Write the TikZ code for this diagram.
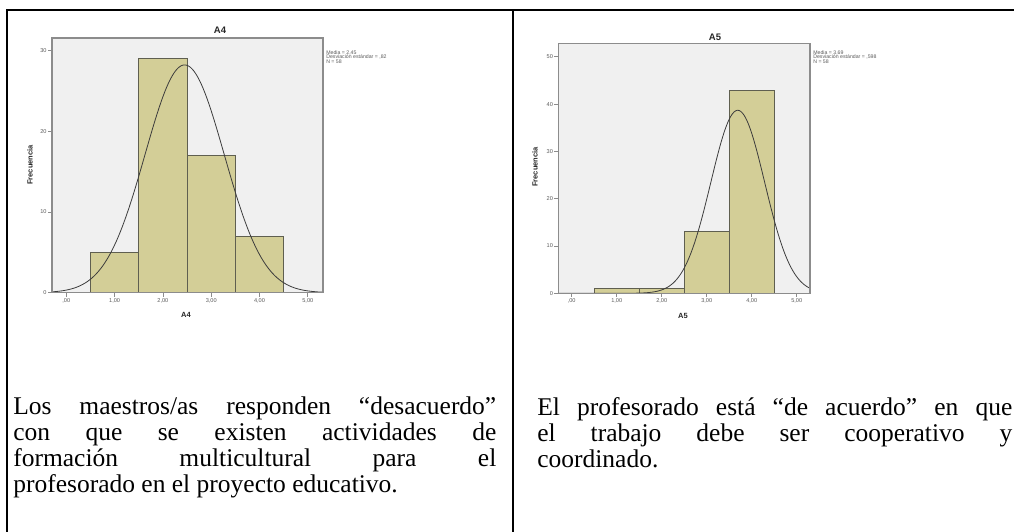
\documentclass[tikz,border=0pt]{standalone}
\usepackage{fontspec}
\setmainfont{Liberation Serif}
\newfontfamily\spssfont{Liberation Sans}
\usepackage{xcolor}
\usepackage{tikz}
\usetikzlibrary{calc}
\usetikzlibrary{positioning}

\definecolor{caqui}{RGB}{211,206,151}
\definecolor{bordebarra}{RGB}{95,95,80}
\definecolor{fondogris}{RGB}{240,240,240}
\definecolor{bordegris}{RGB}{140,140,140}
\definecolor{curvagris}{RGB}{60,60,60}
\definecolor{textogris}{RGB}{90,90,90}

\newcommand{\jline}[2]{\makebox[#1][s]{#2}}

\begin{document}
\begin{tikzpicture}[x=1pt,y=-1pt,semithick]
 \tikzstyle{marco}=[line width=2pt, line join=miter]
 \tikzstyle{fondo}=[fill=fondogris, draw=bordegris, line width=1.2pt]
 \tikzstyle{barra}=[fill=caqui, draw=bordebarra, line width=0.7pt]
 \tikzstyle{curva}=[draw=curvagris, line width=0.8pt]
 \tikzstyle{marca}=[draw=bordegris, line width=0.8pt]
 \tikzstyle{etiq}=[font=\spssfont\fontsize{5.6}{5.6}\selectfont, text=textogris, inner sep=1pt]
 \tikzstyle{leyenda}=[font=\spssfont\fontsize{5.2}{4.7}\selectfont, text=textogris, inner sep=0pt, align=left, anchor=north west]
 \tikzstyle{titulo}=[font=\spssfont\bfseries\fontsize{9.5}{9.5}\selectfont, text=black!85, inner sep=0pt]
 \tikzstyle{ejetit}=[font=\spssfont\bfseries\fontsize{7.5}{7.5}\selectfont, text=black!85, inner sep=0pt]
 \tikzstyle{parrafo}=[font=\fontsize{25.5}{26}\selectfont, inner sep=0pt, align=left, anchor=north west]
 \useasboundingbox (0,0) rectangle (1014,532);

 % table frame
 \draw[marco] (7,532) -- (7,10) -- (1014,10);
 \draw[marco] (512.5,10) -- (512.5,532);

 % histogram A4
 \node[titulo] (titA4) at (220,30) {A4};
 \node[ejetit, rotate=90] (yA4) at (30,165) {Frecuencia};
 \node[ejetit] (xA4) at (186,315) {A4};
 \node[leyenda] (legA4) at (326,50) {Media = 2,45\\Desviación estándar = ,82\\N = 58};
 \begin{scope}[shift={(66.3,292.7)}, x=48.3pt, y=8.07pt]
   \fill[fondogris] (-0.296,0) rectangle (5.315,31.56);
   \foreach \a/\h in {0.5/5,1.5/29,2.5/17,3.5/7}
     \draw[barra] (\a,0) rectangle ++(1,\h);
   \draw[curva] plot[domain=-0.296:5.315, samples=150, smooth]
     (\x, {28.22*exp(-((\x-2.45)*(\x-2.45))/(2*0.82*0.82))});
   \draw[fondo, fill=none] (-0.296,0) rectangle (5.315,31.56);
   \foreach \v in {0,10,20,30}
     \draw[marca] (-0.296,\v) -- ++(-4pt,0) node[left, etiq] {\v};
   \foreach \v/\t in {0/{,00},1/{1,00},2/{2,00},3/{3,00},4/{4,00},5/{5,00}}
     \draw[marca] (\v,0) -- ++(0,-4pt) node[below, etiq] {\t};
 \end{scope}

 % histogram A5
 \node[titulo] (titA5) at (715,37) {A5};
 \node[ejetit, rotate=90] (yA5) at (535,167) {Frecuencia};
 \node[ejetit] (xA5) at (683,316) {A5};
 \node[leyenda] (legA5) at (813,50) {Media = 3,69\\Desviación estándar = ,598\\N = 58};
 \begin{scope}[shift={(571.7,293.3)}, x=45pt, y=4.73pt]
   \fill[fondogris] (-0.298,0) rectangle (5.296,52.85);
   \foreach \a/\h in {0.5/1,1.5/1,2.5/13,3.5/43}
     \draw[barra] (\a,0) rectangle ++(1,\h);
   \draw[curva] plot[domain=-0.298:5.296, samples=150, smooth]
     (\x, {38.69*exp(-((\x-3.69)*(\x-3.69))/(2*0.598*0.598))});
   \draw[fondo, fill=none] (-0.298,0) rectangle (5.296,52.85);
   \foreach \v in {0,10,20,30,40,50}
     \draw[marca] (-0.298,\v) -- ++(-4pt,0) node[left, etiq] {\v};
   \foreach \v/\t in {0/{,00},1/{1,00},2/{2,00},3/{3,00},4/{4,00},5/{5,00}}
     \draw[marca] (\v,0) -- ++(0,-4pt) node[below, etiq] {\t};
 \end{scope}

 % texts under the charts
 \node[parrafo] (txtA4) at (13,397) {%
   \jline{483pt}{Los maestros/as responden “desacuerdo”}\\
   \jline{483pt}{con que se existen actividades de}\\
   \jline{483pt}{formación multicultural para el}\\
   profesorado en el proyecto educativo.};
 \node[parrafo] (txtA5) at (537,397) {%
   \jline{475pt}{El profesorado está “de acuerdo” en que}\\
   \jline{475pt}{el trabajo debe ser cooperativo y}\\
   coordinado.};
\end{tikzpicture}
\end{document}
